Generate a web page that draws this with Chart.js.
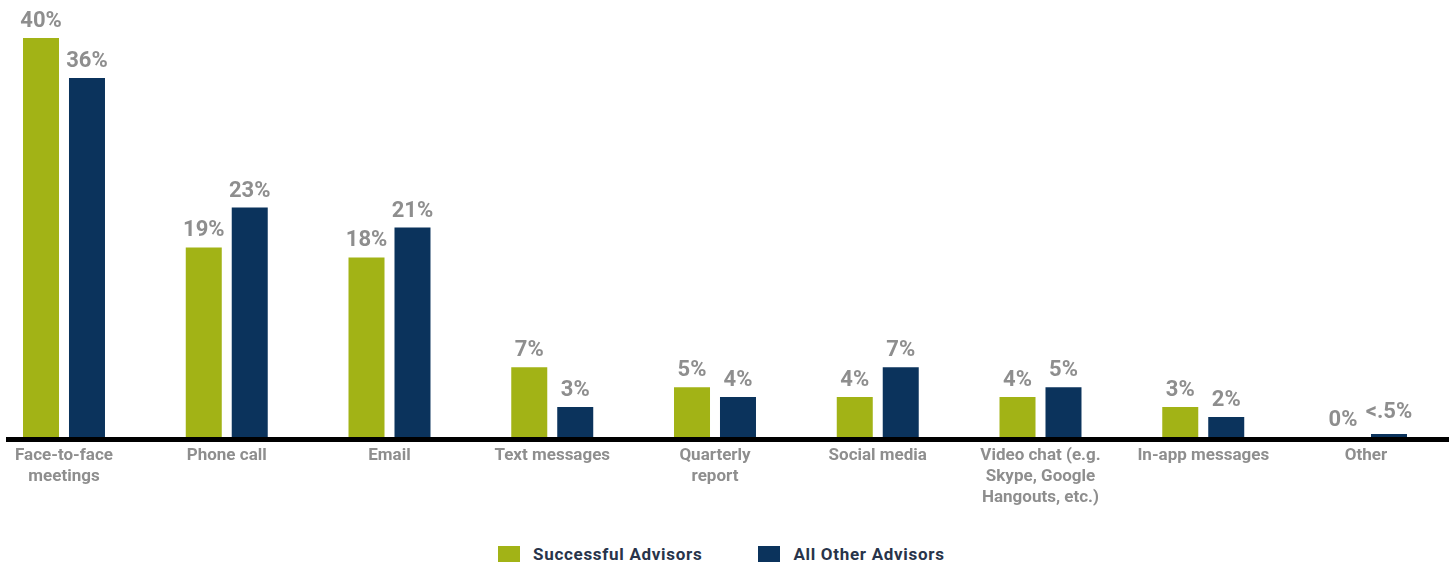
<!DOCTYPE html>
<html>
<head>
<meta charset="utf-8">
<script src="https://cdn.jsdelivr.net/npm/chart.js@4/dist/chart.umd.min.js"></script>
<style>
  html, body { margin: 0; padding: 0; background: #fff; }
  #wrap { position: relative; width: 1455px; height: 562px; overflow: hidden; }
  #chartBox { position: absolute; left: 0; top: 0; width: 1455px; height: 535px; }
  #legend {
    position: absolute; left: 498px; top: 544px;
    display: flex; gap: 56px;
    font: bold 17px Roboto, "Noto Sans", sans-serif; color: #28344a;
    letter-spacing: 0.7px;
  }
  #legend .item { display: flex; align-items: center; }
  #legend .box { width: 22px; height: 17px; margin-right: 13px; }
</style>
</head>
<body>
<div id="wrap">
  <div id="chartBox"><canvas id="chart"></canvas></div>
  <div id="legend"></div>
</div>
<script>
const categories = [
  ["Face-to-face", "meetings"],
  "Phone call",
  "Email",
  "Text messages",
  ["Quarterly", "report"],
  "Social media",
  ["Video chat (e.g.", "Skype, Google", "Hangouts, etc.)"],
  "In-app messages",
  "Other",
];
const successful = [40, 19, 18, 7, 5, 4, 4, 3, 0];
const allOther = [36, 23, 21, 3, 4, 7, 5, 2, 0.3];

const seriesNames = ["Successful Advisors", "All Other Advisors"];
const seriesColors = ["#a2b316", "#0b335c"];

const labelGray = "#8e8e8e";

// anything under half a percent is shown as "<.5%"
function pctText(v) {
  return v > 0 && v < 0.5 ? "<.5%" : v + "%";
}

// value labels above each bar
const valueLabels = {
  id: "valueLabels",
  afterDatasetsDraw(chart) {
    const ctx = chart.ctx;
    ctx.save();
    ctx.font = "bold 22px Roboto, 'Noto Sans', sans-serif";
    ctx.fillStyle = labelGray;
    ctx.textAlign = "center";
    ctx.textBaseline = "alphabetic";
    chart.data.datasets.forEach((ds, i) => {
      chart.getDatasetMeta(i).data.forEach((bar, j) => {
        const v = ds.data[j];
        const lift = v > 0 && v < 0.5 ? 16 : 11;
        ctx.fillText(pctText(v), bar.x, bar.y - lift);
      });
    });
    ctx.restore();
  },
};

// heavy black baseline running nearly the full width
const baseline = {
  id: "baseline",
  afterDatasetsDraw(chart) {
    const ctx = chart.ctx;
    const y = chart.scales.y.getPixelForValue(0);
    ctx.save();
    ctx.fillStyle = "#000";
    ctx.fillRect(6, Math.round(y), chart.width - 12, 5);
    ctx.restore();
  },
};

new Chart(document.getElementById("chart"), {
  type: "bar",
  data: {
    labels: categories,
    datasets: seriesNames.map((name, i) => ({
      label: name,
      data: i === 0 ? successful : allOther,
      backgroundColor: seriesColors[i],
      borderWidth: 0,
      categoryPercentage: 0.565,
      barPercentage: 0.783,
      clip: false,
    })),
  },
  options: {
    responsive: true,
    maintainAspectRatio: false,
    animation: false,
    layout: { padding: { top: 38, left: 64, right: 89, bottom: 0 } },
    plugins: {
      legend: { display: false },
      tooltip: { enabled: false },
    },
    scales: {
      x: {
        offset: false,
        grid: { display: false, offset: false },
        border: { display: false },
        afterFit(scale) {
          scale.height = 98;
        },
        ticks: {
          autoSkip: false,
          maxRotation: 0,
          minRotation: 0,
          padding: 0,
          color: labelGray,
          font: { family: "Roboto, 'Noto Sans', sans-serif", size: 17, weight: "bold", lineHeight: 1.24 },
        },
      },
      y: {
        display: false,
        min: 0,
        max: 40,
      },
    },
  },
  plugins: [valueLabels, baseline],
});

// legend below the plot
const legend = document.getElementById("legend");
seriesNames.forEach((name, i) => {
  const item = document.createElement("div");
  item.className = "item";
  const box = document.createElement("span");
  box.className = "box";
  box.style.background = seriesColors[i];
  const text = document.createElement("span");
  text.textContent = name;
  item.appendChild(box);
  item.appendChild(text);
  legend.appendChild(item);
});
</script>
</body>
</html>
